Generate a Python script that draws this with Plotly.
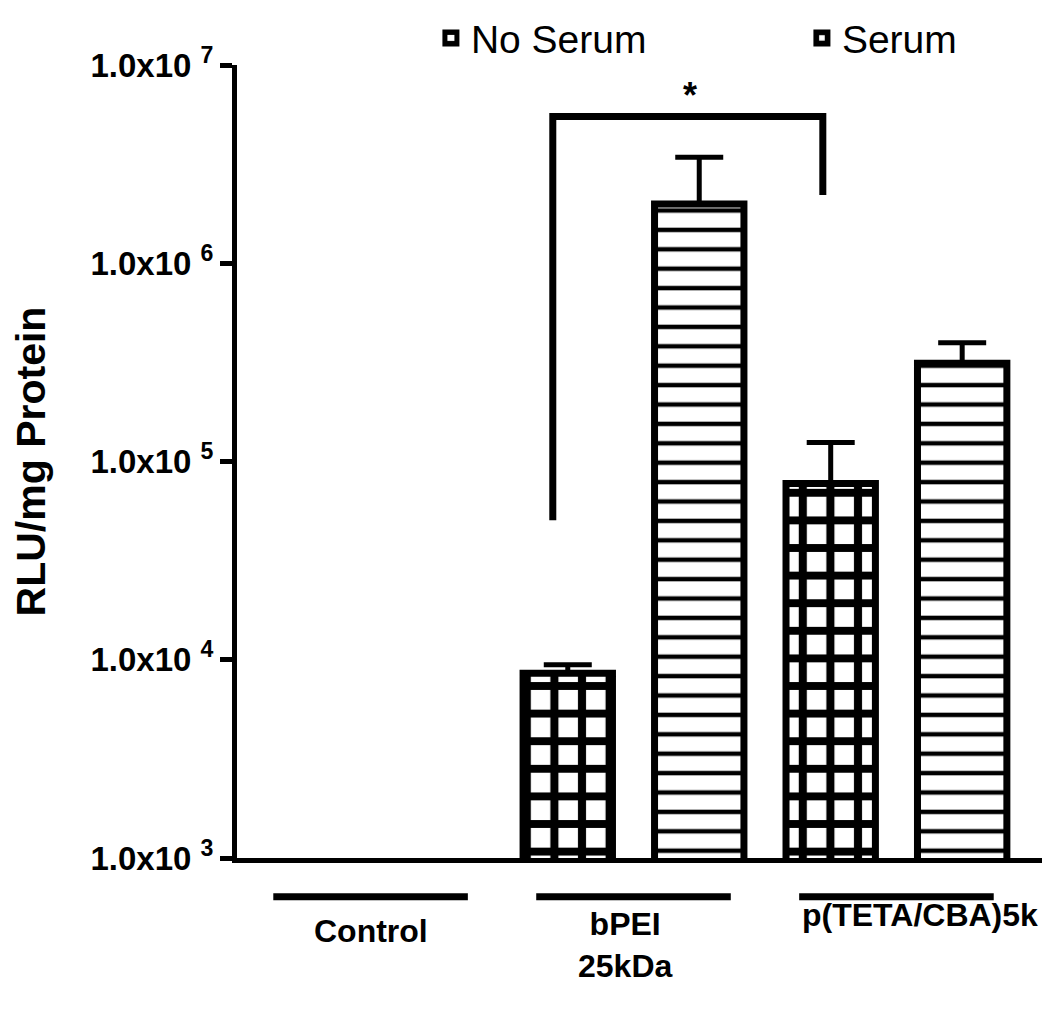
import plotly.graph_objects as go

# ---------------- data ----------------
groups = ["Control", "bPEI 25kDa", "p(TETA/CBA)5k"]
group_labels = ["Control", "bPEI<br>25kDa", "p(TETA/CBA)5k"]
serum = [None, 8550, 77400]
serum_err = [None, 890, 47300]
no_serum = [None, 1.99e6, 312600]
no_serum_err = [None, 1.44e6, 85000]
tick_vals = [1e3, 1e4, 1e5, 1e6, 1e7]
tick_text = ["1.0x10 <sup>3</sup>", "1.0x10 <sup>4</sup>", "1.0x10 <sup>5</sup>",
             "1.0x10 <sup>6</sup>", "1.0x10 <sup>7</sup>"]
series_names = ["Serum", "No Serum"]
sig_label = "*"

FONT = "Liberation Sans, Arial, Helvetica, sans-serif"

fig = go.Figure()
fig.add_trace(go.Bar(
    name=series_names[0], x=groups, y=serum,
    marker=dict(color="white", line=dict(color="black", width=7),
                pattern=dict(shape="+", fgcolor="#000000", bgcolor="white",
                             fgopacity=1, fillmode="replace",
                             size=27.6, solidity=0.5)),
    error_y=dict(type="data", symmetric=False, array=serum_err,
                 arrayminus=[0, 0, 0], color="black", thickness=5, width=24),
))
fig.add_trace(go.Bar(
    name=series_names[1], x=groups, y=no_serum,
    marker=dict(color="white", line=dict(color="black", width=7),
                pattern=dict(shape="-", fgcolor="#000000", bgcolor="white",
                             fgopacity=1, fillmode="replace",
                             size=19.4, solidity=0.23)),
    error_y=dict(type="data", symmetric=False, array=no_serum_err,
                 arrayminus=[0, 0, 0], color="black", thickness=5, width=24),
))

# group underline bars and labels
shapes = []
annotations = []
label_pos = [(0, -0.092, "middle"), (-8, -0.058, "top"), (24, -0.072, "middle")]
for i, g in enumerate(groups):
    shapes.append(dict(type="line", xref="x", yref="paper",
                       x0=i - 0.37, x1=i + 0.37, y0=-0.049, y1=-0.049,
                       line=dict(color="black", width=7)))
    xs, yy, ya = label_pos[i]
    annotations.append(dict(x=g, y=yy, xref="x", yref="paper", xshift=xs,
                            text=group_labels[i], showarrow=False,
                            yanchor=ya, xanchor="center",
                            font=dict(family=FONT, size=32, color="black", weight="bold")))

# significance bracket between bPEI (serum) and p(TETA/CBA)5k (serum)
bx0, bx1 = 1 - 0.307, 2 - 0.28
shapes.append(dict(type="path", xref="x", yref="paper",
                   path=f"M{bx0},0.426 L{bx0},0.935 L{bx1},0.935 L{bx1},0.836",
                   line=dict(color="black", width=7)))
annotations.append(dict(x=(bx0 + bx1) / 2 + 0.01, y=0.99, xref="x", yref="paper",
                        text=sig_label, showarrow=False,
                        font=dict(family=FONT, size=36, color="black", weight="bold")))

# page body has an 8px margin, so the figure is 8px smaller than the window
fig.update_layout(
    width=1042, height=1005,
    margin=dict(l=229, r=5, t=57, b=155, autoexpand=False),
    paper_bgcolor="white", plot_bgcolor="white",
    barmode="group", bargap=0.0, bargroupgap=0.32,
    font=dict(family=FONT, color="black"),
    showlegend=True,
    legend=dict(orientation="h", traceorder="reversed", x=0.24, y=1.034,
                xanchor="left", yanchor="middle", entrywidth=326, entrywidthmode="pixels",
                font=dict(family=FONT, size=39, color="black"),
                bgcolor="rgba(0,0,0,0)"),
    shapes=shapes, annotations=annotations,
)
fig.update_xaxes(type="category", range=[-0.508, 2.565], showticklabels=False,
                 ticks="", showline=True, linewidth=5, linecolor="black",
                 showgrid=False, zeroline=False)
fig.update_yaxes(type="log", range=[3, 7], tickvals=tick_vals, ticktext=tick_text,
                 ticks="outside", ticklen=12, tickwidth=5, tickcolor="black",
                 showline=True, linewidth=5, linecolor="black",
                 showgrid=False, zeroline=False,
                 tickfont=dict(family=FONT, size=33, color="black", weight="bold"),
                 title=dict(text="RLU/mg Protein", standoff=40,
                            font=dict(family=FONT, size=41, color="black", weight="bold")))

fig.write_html("out.html")
